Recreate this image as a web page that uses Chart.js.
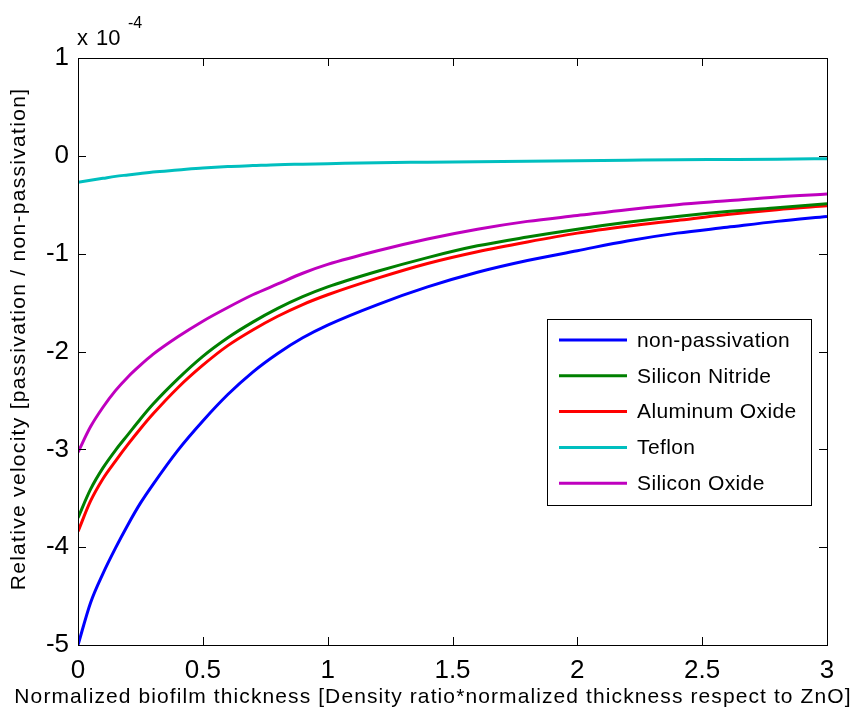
<!DOCTYPE html>
<html>
<head>
<meta charset="utf-8">
<script src="https://cdn.jsdelivr.net/npm/chart.js@4"></script>
<style>
  html, body { margin: 0; padding: 0; background: #fff; }
  #chart { display: block; }
</style>
</head>
<body>
<canvas id="chart" width="857" height="710"></canvas>
<script>
// valores (unidades de 1e-4)
const espessura = [0, 0.05, 0.1, 0.15, 0.2, 0.25, 0.3, 0.4, 0.5, 0.6, 0.7, 0.8, 0.9, 1.0,
                   1.2, 1.4, 1.6, 1.8, 2.0, 2.2, 2.4, 2.6, 2.8, 3.0];
const nonPassivation = [-5.00, -4.57, -4.27, -4.01, -3.77, -3.55, -3.36, -3.01, -2.71, -2.44, -2.21, -2.02, -1.86, -1.73,
                        -1.52, -1.34, -1.19, -1.07, -0.97, -0.87, -0.79, -0.73, -0.67, -0.62];
const siliconNitride = [-3.70, -3.41, -3.19, -3.01, -2.85, -2.69, -2.54, -2.28, -2.05, -1.86, -1.70, -1.56, -1.44, -1.34,
                        -1.18, -1.04, -0.92, -0.83, -0.75, -0.68, -0.62, -0.57, -0.53, -0.49];
const aluminumOxide = [-3.84, -3.53, -3.30, -3.12, -2.95, -2.79, -2.64, -2.37, -2.14, -1.94, -1.78, -1.64, -1.52, -1.42,
                       -1.25, -1.10, -0.98, -0.88, -0.79, -0.72, -0.66, -0.60, -0.55, -0.51];
const teflon = [-0.27, -0.25, -0.23, -0.21, -0.195, -0.18, -0.165, -0.145, -0.125, -0.11, -0.10, -0.09, -0.085, -0.08,
                -0.07, -0.065, -0.06, -0.055, -0.05, -0.045, -0.04, -0.037, -0.034, -0.03];
const siliconOxide = [-3.03, -2.77, -2.57, -2.40, -2.26, -2.14, -2.03, -1.85, -1.69, -1.55, -1.42, -1.31, -1.20, -1.11,
                      -0.97, -0.85, -0.75, -0.67, -0.61, -0.55, -0.50, -0.46, -0.42, -0.39];

const nomes = ['non-passivation', 'Silicon Nitride', 'Aluminum Oxide', 'Teflon', 'Silicon Oxide'];
const series = [nonPassivation, siliconNitride, aluminumOxide, teflon, siliconOxide];
const cores = ['#0000ff', '#008000', '#ff0000', '#00bfbf', '#bf00bf'];

const tituloX = 'Normalized biofilm thickness [Density ratio*normalized thickness respect to ZnO]';
const tituloY = 'Relative velocity [passivation / non-passivation]';

const fonte = '"Liberation Sans", Arial, sans-serif';

// desenha moldura, marcas internas, legenda e títulos no estilo MATLAB
const estiloMatlab = {
  id: 'estiloMatlab',
  afterDraw(chart) {
    const ctx = chart.ctx;
    const a = chart.chartArea;
    const sx = chart.scales.x, sy = chart.scales.y;
    const tam = 8;
    ctx.save();
    ctx.strokeStyle = '#000';
    ctx.lineWidth = 1;
    ctx.strokeRect(Math.round(a.left) + 0.5, Math.round(a.top) + 0.5,
                   Math.round(a.right - a.left), Math.round(a.bottom - a.top));
    ctx.beginPath();
    sx.ticks.forEach(t => {
      const px = Math.round(sx.getPixelForValue(t.value)) + 0.5;
      ctx.moveTo(px, a.bottom); ctx.lineTo(px, a.bottom - tam);
      ctx.moveTo(px, a.top); ctx.lineTo(px, a.top + tam);
    });
    sy.ticks.forEach(t => {
      const py = Math.round(sy.getPixelForValue(t.value)) + 0.5;
      ctx.moveTo(a.left, py); ctx.lineTo(a.left + tam, py);
      ctx.moveTo(a.right, py); ctx.lineTo(a.right - tam, py);
    });
    ctx.stroke();

    // legenda
    const lx = 547, ly = 319, lw = 264, lh = 186;
    ctx.fillStyle = '#fff';
    ctx.fillRect(lx, ly, lw, lh);
    ctx.strokeRect(lx + 0.5, ly + 0.5, lw, lh);
    ctx.font = '21px ' + fonte;
    ctx.letterSpacing = '0.4px';
    ctx.textBaseline = 'middle';
    ctx.textAlign = 'left';
    chart.data.datasets.forEach((ds, i) => {
      const yy = 340 + i * 35.8;
      ctx.strokeStyle = ds.borderColor;
      ctx.lineWidth = 3;
      ctx.beginPath();
      ctx.moveTo(559, yy); ctx.lineTo(627, yy);
      ctx.stroke();
      ctx.fillStyle = '#000';
      ctx.fillText(ds.label, 637, yy + 1);
    });

    // títulos dos eixos
    ctx.fillStyle = '#000';
    ctx.font = '21px ' + fonte;
    ctx.letterSpacing = '1.1px';
    ctx.textAlign = 'center';
    ctx.fillText(tituloX, 433, 697);
    ctx.save();
    ctx.translate(19, 339);
    ctx.rotate(-Math.PI / 2);
    ctx.letterSpacing = '1.3px';
    ctx.fillText(tituloY, 0, 0);
    ctx.restore();

    // multiplicador x 10^-4
    ctx.letterSpacing = '0px';
    ctx.textAlign = 'left';
    ctx.textBaseline = 'alphabetic';
    ctx.font = '22px ' + fonte;
    ctx.fillText('x', 77, 45);
    ctx.fillText('10', 96, 45);
    ctx.font = '16px ' + fonte;
    ctx.fillText('-4', 128, 28);
    ctx.restore();
  }
};

new Chart(document.getElementById('chart'), {
  type: 'line',
  data: {
    datasets: series.map((s, i) => ({
      label: nomes[i],
      data: espessura.map((x, j) => ({ x: x, y: s[j] })),
      borderColor: cores[i],
      backgroundColor: cores[i],
      borderWidth: 3,
      pointRadius: 0,
      cubicInterpolationMode: 'monotone',
      fill: false
    }))
  },
  options: {
    responsive: false,
    animation: false,
    layout: { padding: { top: 58, right: 30, left: 0, bottom: 0 } },
    plugins: { legend: { display: false }, tooltip: { enabled: false } },
    scales: {
      x: {
        type: 'linear',
        min: 0, max: 3,
        afterFit: s => { s.height = 65; },
        grid: { display: false, drawTicks: false },
        border: { display: false },
        ticks: {
          stepSize: 0.5, padding: 10, color: '#000',
          font: { family: fonte, size: 26 },
          callback: v => String(Math.round(v * 10) / 10)
        }
      },
      y: {
        min: -5, max: 1,
        afterFit: s => { s.width = 78; },
        grid: { display: false, drawTicks: false },
        border: { display: false },
        ticks: { stepSize: 1, padding: 9, color: '#000', font: { family: fonte, size: 26 } }
      }
    }
  },
  plugins: [estiloMatlab]
});
</script>
</body>
</html>
